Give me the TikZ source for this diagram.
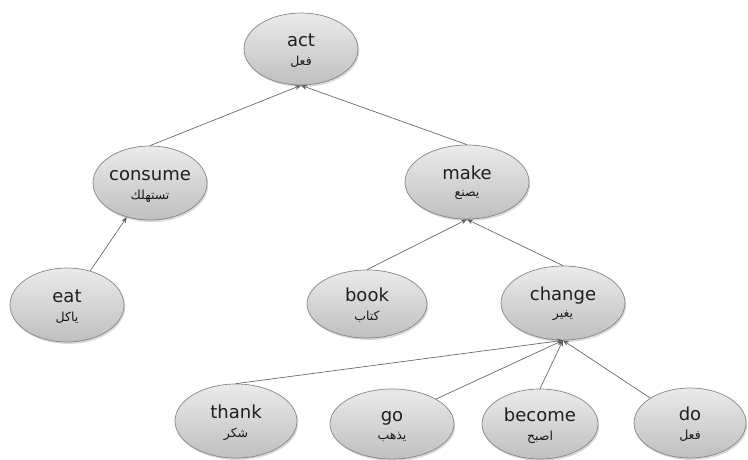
\documentclass[tikz,border=0pt]{standalone}
\usepackage{fontspec}
\setmainfont{DejaVu Sans}
\newfontfamily\arabicfont[Script=Arabic]{DejaVu Sans}
\TeXXeTstate=1
\usetikzlibrary{shapes.geometric,shadows,arrows.meta}

\tikzset{
  concept/.style={ellipse, inner sep=0pt, draw=black!48, line width=0.7pt,
    top color=black!8, bottom color=black!25,
    drop shadow={shadow xshift=1.2pt, shadow yshift=-2pt, opacity=0.3}},
  en/.style={font=\fontsize{18}{20}\selectfont, text=black!88, inner sep=0pt,
    text height=13pt, text depth=3pt},
  ar/.style={font=\arabicfont\fontsize{12.5}{14}\selectfont, text=black!90, inner sep=0pt},
  link/.style={draw=black!62, line width=0.65pt, -{Stealth[length=6pt,width=5pt]}},
}

% #1 name, #2 position, #3 width, #4 height, #5 English word, #6 Arabic word
\newcommand\conceptnode[6]{%
  \node[concept, minimum width=#3pt, minimum height=#4pt] (#1) at (#2) {};
  \node[en] (#1-en) at ([yshift=8pt]#1.center) {#5};
  \node[ar] (#1-ar) at ([yshift=-13pt]#1.center) {\beginR #6\endR};
}

\begin{document}
\begin{tikzpicture}[x=1pt,y=-1pt]
  \useasboundingbox (0,0) rectangle (748,459);

  \conceptnode{act}{301,49}{114}{72}{act}{فعل}
  \conceptnode{consume}{150,183}{114}{74}{consume}{تستهلك}
  \conceptnode{make}{467,182}{124}{74}{make}{يصنع}
  \conceptnode{eat}{67,305}{114}{74}{eat}{ياكل}
  \conceptnode{book}{367,304}{120}{68}{book}{كتاب}
  \conceptnode{change}{563,303}{124}{74}{change}{يغير}
  \conceptnode{thank}{236,421}{122}{74}{thank}{شكر}
  \conceptnode{go}{392,424}{124}{70}{go}{يذهب}
  \conceptnode{become}{540,424}{116}{70}{become}{اصبح}
  \conceptnode{do}{690,423}{112}{70}{do}{فعل}

  \draw[link] (consume.north) -- (act.south);
  \draw[link] (make.north) -- (act.south);
  \draw[link] (eat) -- (consume);
  \draw[link] (book.north) -- (make.south);
  \draw[link] (change.north) -- (make.south);
  \draw[link] (thank.north) -- (change.south);
  \draw[link] (go.north east) -- (change.south);
  \draw[link] (become.north) -- (change.south);
  \draw[link] (do.north west) -- (change.south);
\end{tikzpicture}
\end{document}
